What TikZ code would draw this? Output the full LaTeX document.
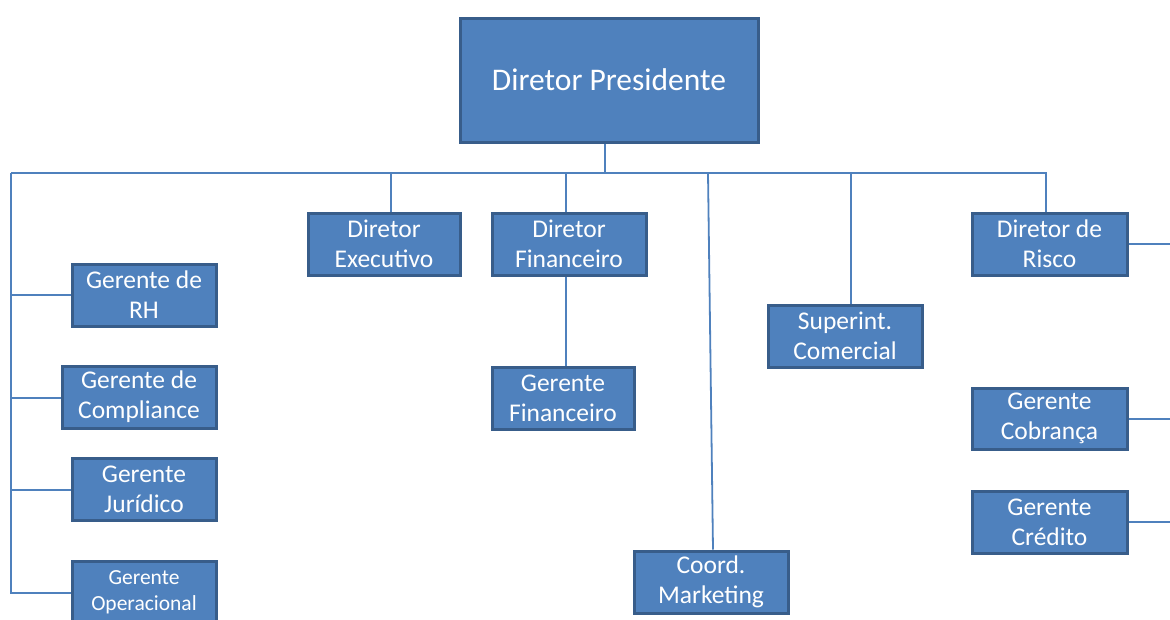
\documentclass[tikz,border=0pt]{standalone}
\usepackage{fontspec}
\setmainfont{Carlito}
\definecolor{boxfill}{HTML}{4F81BD}
\definecolor{boxline}{HTML}{385D8A}
\definecolor{conn}{HTML}{4F81BD}
\begin{document}
\begin{tikzpicture}[x=1pt,y=-1pt,
  org/.style={draw=boxline,line width=3pt,fill=boxfill,text=white,inner sep=0pt,align=center,
    font=\fontsize{25.5}{30}\selectfont},
  link/.style={draw=conn,line width=1.8pt}]
\useasboundingbox (0,0) rectangle (1170,619);
\clip (0,0) rectangle (1170,619);
% boxes
\node[org,minimum width=298pt,minimum height=124pt,font=\fontsize{31.5}{36}\selectfont] (pres) at (609,80) {Diretor Presidente};
\node[org,minimum width=144pt,minimum height=62pt] (rh) at (144,295) {Gerente de\\RH};
\node[org,minimum width=154pt,minimum height=62pt] (comp) at (139,397) {Gerente de\\Compliance};
\node[org,minimum width=144pt,minimum height=62pt] (jur) at (144,489) {Gerente\\Jurídico};
\node[org,minimum width=144pt,minimum height=62pt,font=\fontsize{21.5}{26}\selectfont] (oper) at (144,592) {Gerente\\Operacional};
\node[org,minimum width=152pt,minimum height=62pt] (exec) at (384,244) {Diretor\\Executivo};
\node[org,minimum width=154pt,minimum height=62pt] (fin) at (569,244) {Diretor\\Financeiro};
\node[org,minimum width=142pt,minimum height=62pt] (gfin) at (563,398) {Gerente\\Financeiro};
\node[org,minimum width=154pt,minimum height=62pt] (mkt) at (711,582) {Coord.\\Marketing};
\node[org,minimum width=154pt,minimum height=62pt] (com) at (845,336) {Superint.\\Comercial};
\node[org,minimum width=155pt,minimum height=62pt] (risco) at (1049.5,244) {Diretor de\\Risco};
\node[org,minimum width=155pt,minimum height=61pt] (cob) at (1049.5,418.5) {Gerente\\Cobrança};
\node[org,minimum width=155pt,minimum height=62pt] (cred) at (1049.5,522) {Gerente\\Crédito};
% bus coordinates
\coordinate (busL) at (11,173);
\coordinate (busR) at (1046,173);
\coordinate (rightedge) at (1170,0);
% connectors
\draw[link] (pres.south -| 605,0) -- (605,173);
\draw[link] (busL) -- (busR) -- (risco.north -| busR);
\draw[link] (busL) |- (oper.west |- 0,593);
\draw[link] (11,295) -- (rh.west);
\draw[link] (11,398) -- (comp.west |- 0,398);
\draw[link] (11,490) -- (jur.west |- 0,490);
\draw[link] (391,173) -- (exec.north -| 391,0);
\draw[link] (566,173) -- (fin.north -| 566,0);
\draw[link] (fin.south -| 566,0) -- (gfin.north -| 566,0);
\draw[link] (708,173) -- (mkt.north -| 713,0);
\draw[link] (851,173) -- (com.north -| 851,0);
\draw[link] (risco.east) -- (rightedge |- risco.east);
\draw[link] (cob.east |- 0,419) -- (rightedge |- 0,419);
\draw[link] (cred.east) -- (rightedge |- cred.east);
\end{tikzpicture}
\end{document}
